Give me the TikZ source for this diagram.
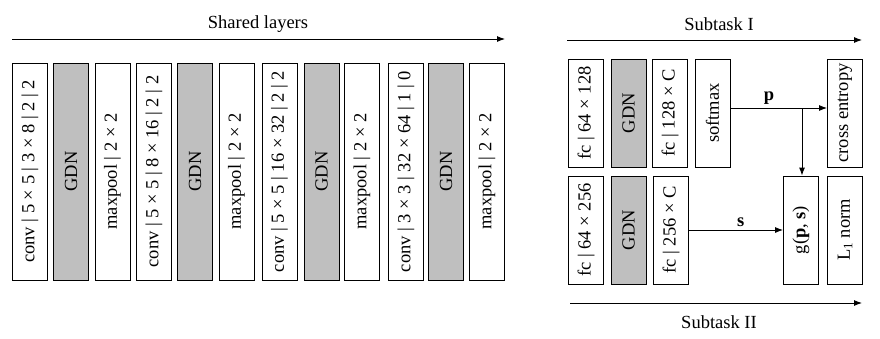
\documentclass[tikz,border=0pt]{standalone}
\usepackage{fontspec}
\setmainfont{Liberation Serif}
\usetikzlibrary{arrows.meta,positioning}

\begin{document}
\begin{tikzpicture}[x=1pt, y=-1pt, >={Latex[length=8pt,width=6pt]}, line width=0.9pt,
  every node/.style={font=\fontsize{18.5}{22}\selectfont},
  layer/.style={draw, rotate=90, minimum width=217pt, minimum height=35pt, inner sep=0pt},
  head/.style={draw, rotate=90, minimum width=108pt, minimum height=35pt, inner sep=0pt},
  gdn/.style={fill=gdncol}]
  % Define colors
  \colorlet{gdncol}{black!25}
  \useasboundingbox (0,0) rectangle (880,338);

  % Shared layers
  \coordinate (shs) at (12,39);
  \coordinate (she) at (505,39);
  \draw[->] (shs) -- (she);
  \node (shared) at (258,24) {Shared layers};

  \node[layer] (conva) at (30,171.5) {conv | 5 × 5 | 3 × 8 | 2 | 2};
  \node[layer, gdn] (gdna) at (71,171.5) {GDN};
  \node[layer] (poola) at (112.5,171.5) {maxpool | 2 × 2};
  \node[layer] (convb) at (154,171.5) {conv | 5 × 5 | 8 × 16 | 2 | 2};
  \node[layer, gdn] (gdnb) at (195,171.5) {GDN};
  \node[layer] (poolb) at (236.5,171.5) {maxpool | 2 × 2};
  \node[layer] (convc) at (279.5,171.5) {conv | 5 × 5 | 16 × 32 | 2 | 2};
  \node[layer, gdn] (gdnc) at (321.5,171.5) {GDN};
  \node[layer] (poolc) at (362,171.5) {maxpool | 2 × 2};
  \node[layer] (convd) at (406,171.5) {conv | 3 × 3 | 32 × 64 | 1 | 0};
  \node[layer, gdn] (gdnd) at (446,171.5) {GDN};
  \node[layer] (poold) at (487,171.5) {maxpool | 2 × 2};

  % Subtask I
  \coordinate (sas) at (567,40);
  \coordinate (sae) at (862,40);
  \draw[->] (sas) -- (sae);
  \node (suba) at (719,24) {Subtask I};

  \node[head] (fcpa) at (586,113) {fc | 64 × 128};
  \node[head, gdn] (gdnp) at (628.5,113) {GDN};
  \node[head] (fcpb) at (670,113) {fc | 128 × C};
  \node[head] (softmax) at (712.5,113) {softmax};
  \node[head] (xent) at (845,113) {cross entropy};

  % Subtask II
  \node[head] (fcsa) at (586,230) {fc | 64 × 256};
  \node[head, gdn] (gdns) at (628.5,230) {GDN};
  \node[head] (fcsb) at (671,230) {fc | 256 × C};
  \node[head] (gfun) at (801,230) {g(\textbf{p}, \textbf{s})};
  \node[head] (lnorm) at (845,230) {L\textsubscript{1} norm};

  \coordinate (sbs) at (570,303);
  \coordinate (sbe) at (862,303);
  \draw[->] (sbs) -- (sbe);
  \node (subb) at (719,322) {Subtask II};

  % Outputs
  \coordinate (pjoin) at (802,108);
  \draw[->] (softmax.south |- pjoin) -- (xent.north |- pjoin)
    node[pos=0.4, above] {\textbf{p}};
  \draw[->] (pjoin) -- (pjoin |- gfun.east);
  \draw[->] (fcsb.south) -- (gfun.north) node[pos=0.55, above] {\textbf{s}};
\end{tikzpicture}
\end{document}
